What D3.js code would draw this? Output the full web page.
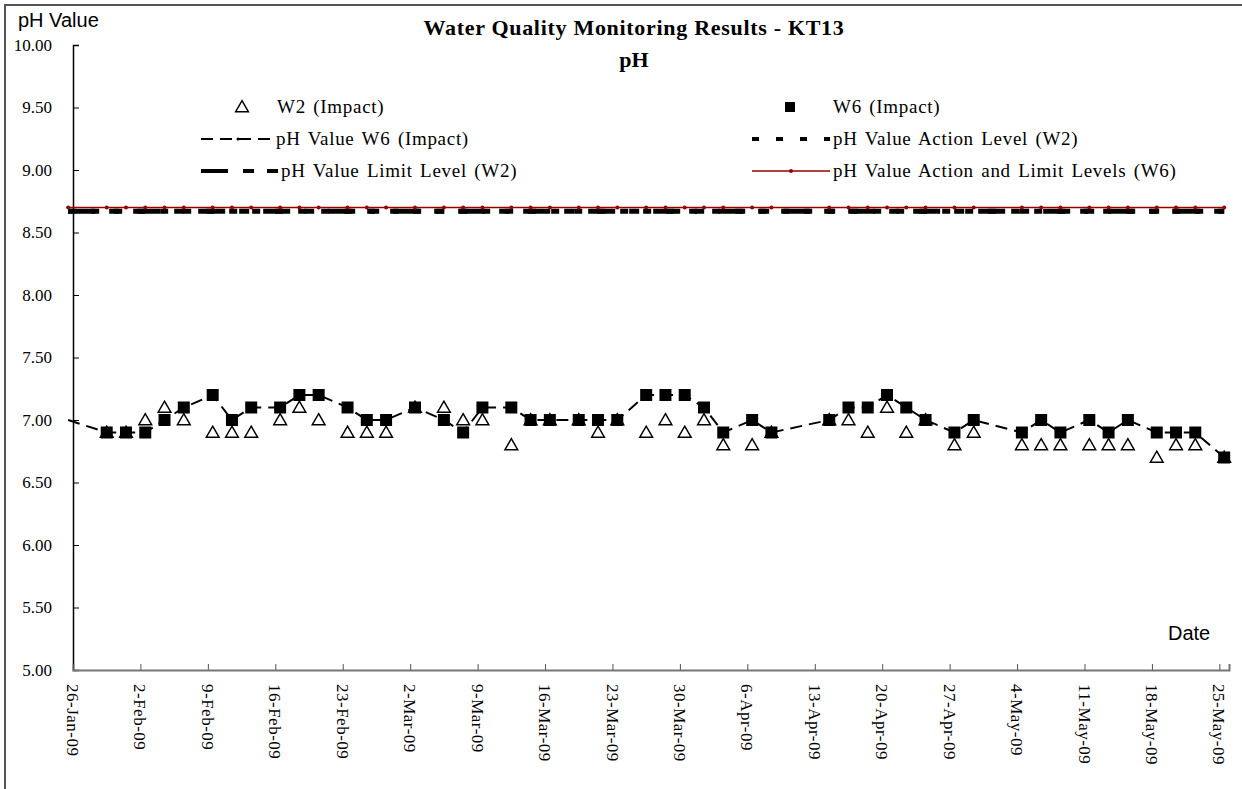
<!DOCTYPE html>
<meta charset="utf-8">
<head>
<script src="https://d3js.org/d3.v7.min.js"></script>
<style>
    body {
        margin: 0;
        background: #fff;
    }
    .serif {
        font-family: "Liberation Serif", "Times New Roman", serif;
    }
    .sans {
        font-family: "Liberation Sans", Arial, sans-serif;
    }
</style>
</head>
<body>
<div id="chart"></div>
<script>
    // sampling dates shared by W2 and W6
    var sampleDates = ["29-Jan-09", "31-Jan-09", "2-Feb-09", "4-Feb-09", "6-Feb-09", "9-Feb-09", "11-Feb-09",
        "13-Feb-09", "16-Feb-09", "18-Feb-09", "20-Feb-09", "23-Feb-09", "25-Feb-09", "27-Feb-09", "2-Mar-09",
        "5-Mar-09", "7-Mar-09", "9-Mar-09", "12-Mar-09", "14-Mar-09", "16-Mar-09", "19-Mar-09", "21-Mar-09",
        "23-Mar-09", "26-Mar-09", "28-Mar-09", "30-Mar-09", "1-Apr-09", "3-Apr-09", "6-Apr-09", "8-Apr-09",
        "14-Apr-09", "16-Apr-09", "18-Apr-09", "20-Apr-09", "22-Apr-09", "24-Apr-09", "27-Apr-09", "29-Apr-09",
        "4-May-09", "6-May-09", "8-May-09", "11-May-09", "13-May-09", "15-May-09", "18-May-09", "20-May-09",
        "22-May-09", "25-May-09"];

    var w6Values = [6.9, 6.9, 6.9, 7.0, 7.1, 7.2, 7.0, 7.1, 7.1, 7.2, 7.2, 7.1, 7.0, 7.0, 7.1,
        7.0, 6.9, 7.1, 7.1, 7.0, 7.0, 7.0, 7.0, 7.0, 7.2, 7.2, 7.2, 7.1, 6.9, 7.0, 6.9,
        7.0, 7.1, 7.1, 7.2, 7.1, 7.0, 6.9, 7.0, 6.9, 7.0, 6.9, 7.0, 6.9, 7.0, 6.9, 6.9,
        6.9, 6.7];

    var w2Values = [6.9, 6.9, 7.0, 7.1, 7.0, 6.9, 6.9, 6.9, 7.0, 7.1, 7.0, 6.9, 6.9, 6.9, 7.1,
        7.1, 7.0, 7.0, 6.8, 7.0, 7.0, 7.0, 6.9, 7.0, 6.9, 7.0, 6.9, 7.0, 6.8, 6.8, 6.9,
        7.0, 7.0, 6.9, 7.1, 6.9, 7.0, 6.8, 6.9, 6.8, 6.8, 6.8, 6.8, 6.8, 6.8, 6.7, 6.8,
        6.8, 6.7];

    // the W6 line and level lines also carry a point just before the axis start
    var leadDate = "25-Jan-09";
    var w6LeadValue = 7.0;

    var actionLevelW2 = 8.67;
    var limitLevelW2 = 8.67;
    var levelW6 = 8.7;

    var tickDates = ["26-Jan-09", "2-Feb-09", "9-Feb-09", "16-Feb-09", "23-Feb-09", "2-Mar-09", "9-Mar-09",
        "16-Mar-09", "23-Mar-09", "30-Mar-09", "6-Apr-09", "13-Apr-09", "20-Apr-09", "27-Apr-09", "4-May-09",
        "11-May-09", "18-May-09", "25-May-09"];
    var yTicks = [5.0, 5.5, 6.0, 6.5, 7.0, 7.5, 8.0, 8.5, 9.0, 9.5, 10.0];

    var parse = d3.timeParse("%d-%b-%y");
    var fmt = d3.timeFormat("%-d-%b-%y");
    var mid = function (s) { return d3.timeHour.offset(parse(s), 12); };

    var width = 1242, height = 789;
    var plot = {left: 73, top: 45, right: 1229, bottom: 670};

    var svg = d3.select("#chart").append("svg")
        .attr("width", width)
        .attr("height", height);

    // outer frame
    svg.append("rect")
        .attr("x", 5).attr("y", 5)
        .attr("width", 1400).attr("height", 1000)
        .attr("fill", "none")
        .attr("stroke", "#555")
        .attr("stroke-width", 2);

    var x = d3.scaleTime()
        .domain([parse(tickDates[0]), d3.timeDay.offset(parse(tickDates[tickDates.length - 1]), 1)])
        .range([plot.left, plot.right]);
    var y = d3.scaleLinear().domain([5, 10]).range([plot.bottom, plot.top]);

    var samples = sampleDates.map(function (d, i) {
        return {date: mid(d), w6: w6Values[i], w2: w2Values[i]};
    });
    var levelDates = [mid(leadDate)].concat(samples.map(function (d) { return d.date; }));

    // y axis
    var yAxis = svg.append("g")
        .attr("transform", "translate(" + plot.left + ",0)")
        .call(d3.axisRight(y).tickValues(yTicks).tickSize(6).tickFormat(""));
    yAxis.select(".domain").attr("stroke", "#000").attr("stroke-width", 1.5);
    yAxis.selectAll(".tick line").attr("stroke", "#000");

    svg.append("g").selectAll("text")
        .data(yTicks)
        .enter().append("text")
        .attr("class", "serif")
        .attr("x", 52)
        .attr("y", function (d) { return y(d); })
        .attr("dy", ".35em")
        .attr("text-anchor", "end")
        .style("font-size", "17px")
        .text(function (d) { return d3.format(".2f")(d); });

    // x axis
    var xAxis = svg.append("g")
        .attr("transform", "translate(0," + plot.bottom + ")")
        .call(d3.axisTop(x).tickValues(tickDates.map(parse)).tickSize(6).tickFormat(""));
    xAxis.select(".domain").attr("stroke", "#777").attr("stroke-width", 2);
    xAxis.selectAll(".tick line").attr("stroke", "#555");

    svg.append("g").selectAll("text")
        .data(tickDates)
        .enter().append("text")
        .attr("class", "serif")
        .attr("transform", function (d) { return "translate(" + x(parse(d)) + "," + (plot.bottom + 14) + ") rotate(90)"; })
        .attr("dy", ".35em")
        .style("font-size", "17px")
        .style("letter-spacing", "0.5px")
        .text(function (d) { return fmt(parse(d)); });

    // level lines
    var levelLine = function (v) {
        return d3.line()
            .x(function (d) { return x(d); })
            .y(function () { return y(v); })(levelDates);
    };
    svg.append("path")
        .attr("d", levelLine(limitLevelW2))
        .attr("fill", "none").attr("stroke", "#000").attr("stroke-width", 5)
        .attr("stroke-dasharray", "27,14,10,14");
    svg.append("path")
        .attr("d", levelLine(actionLevelW2))
        .attr("fill", "none").attr("stroke", "#000").attr("stroke-width", 5)
        .attr("stroke-dasharray", "8,15");
    svg.append("path")
        .attr("d", levelLine(levelW6))
        .attr("fill", "none").attr("stroke", "#990000").attr("stroke-width", 1.5);
    svg.append("g").selectAll("circle")
        .data(levelDates)
        .enter().append("circle")
        .attr("cx", function (d) { return x(d); })
        .attr("cy", y(levelW6))
        .attr("r", 2)
        .attr("fill", "#990000");

    // W6 line
    var w6LineData = [{date: mid(leadDate), w6: w6LeadValue}].concat(samples);
    svg.append("path")
        .datum(w6LineData)
        .attr("d", d3.line().x(function (d) { return x(d.date); }).y(function (d) { return y(d.w6); }))
        .attr("fill", "none")
        .attr("stroke", "#000")
        .attr("stroke-width", 2)
        .attr("stroke-dasharray", "12,7");

    // W2 triangles
    var tri = d3.symbol().type(d3.symbolTriangle).size(70);
    svg.append("g").selectAll("path")
        .data(samples)
        .enter().append("path")
        .attr("d", tri)
        .attr("transform", function (d) { return "translate(" + x(d.date) + "," + (y(d.w2) + 1) + ")"; })
        .attr("fill", "#fff")
        .attr("stroke", "#000")
        .attr("stroke-width", 1.5);

    // W6 squares
    svg.append("g").selectAll("rect")
        .data(samples)
        .enter().append("rect")
        .attr("x", function (d) { return x(d.date) - 6; })
        .attr("y", function (d) { return y(d.w6) - 6; })
        .attr("width", 12)
        .attr("height", 12)
        .attr("fill", "#000");

    // titles
    svg.append("text")
        .attr("class", "serif")
        .attr("x", 634).attr("y", 35)
        .attr("text-anchor", "middle")
        .style("font-size", "22px").style("font-weight", "bold")
        .style("letter-spacing", "0.7px")
        .text("Water Quality Monitoring Results - KT13");
    svg.append("text")
        .attr("class", "serif")
        .attr("x", 634).attr("y", 67)
        .attr("text-anchor", "middle")
        .style("font-size", "22px").style("font-weight", "bold")
        .text("pH");
    svg.append("text")
        .attr("class", "sans")
        .attr("x", 18).attr("y", 27)
        .style("font-size", "20px")
        .text("pH Value");
    svg.append("text")
        .attr("class", "sans")
        .attr("x", 1168).attr("y", 640)
        .style("font-size", "20px")
        .text("Date");

    // legend
    var legend = svg.append("g");
    var legendText = function (lx, ly, s) {
        legend.append("text")
            .attr("class", "serif")
            .attr("x", lx).attr("y", ly + 6)
            .style("font-size", "19px")
            .style("letter-spacing", "0.7px")
            .style("word-spacing", "2px")
            .text(s);
    };
    legend.append("path").attr("d", tri).attr("transform", "translate(242,108)")
        .attr("fill", "#fff").attr("stroke", "#000").attr("stroke-width", 1.5);
    legendText(277, 107, "W2 (Impact)");
    legend.append("rect").attr("x", 785).attr("y", 102).attr("width", 10).attr("height", 10).attr("fill", "#000");
    legendText(833, 107, "W6 (Impact)");

    legend.append("line").attr("x1", 201).attr("x2", 273).attr("y1", 139).attr("y2", 139)
        .attr("stroke", "#000").attr("stroke-width", 2).attr("stroke-dasharray", "12,7");
    legend.append("circle").attr("cx", 238).attr("cy", 139).attr("r", 1.5).attr("fill", "#000");
    legendText(276, 139, "pH Value W6 (Impact)");
    legend.append("line").attr("x1", 752).attr("x2", 830).attr("y1", 139).attr("y2", 139)
        .attr("stroke", "#000").attr("stroke-width", 4).attr("stroke-dasharray", "7,17");
    legendText(833, 139, "pH Value Action Level (W2)");

    legend.append("line").attr("x1", 201).attr("x2", 278).attr("y1", 171).attr("y2", 171)
        .attr("stroke", "#000").attr("stroke-width", 4).attr("stroke-dasharray", "27,15,11,13");
    legendText(281, 171, "pH Value Limit Level (W2)");
    legend.append("line").attr("x1", 752).attr("x2", 830).attr("y1", 171).attr("y2", 171)
        .attr("stroke", "#990000").attr("stroke-width", 1.5);
    legend.append("circle").attr("cx", 791).attr("cy", 171).attr("r", 2).attr("fill", "#990000");
    legendText(833, 171, "pH Value Action and Limit Levels (W6)");
</script>
</body>
